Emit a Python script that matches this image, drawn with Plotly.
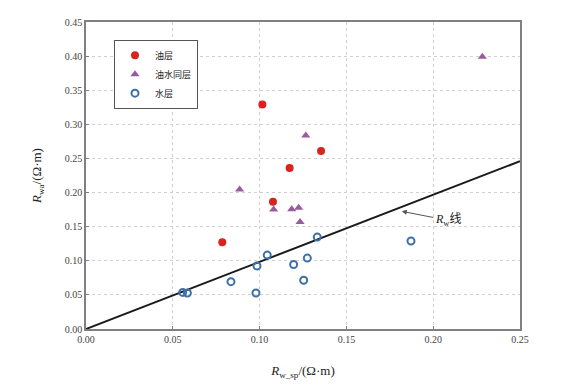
import plotly.graph_objects as go

oil_x = [0.1016, 0.1354, 0.1173, 0.1077, 0.0785]
oil_y = [0.329, 0.261, 0.236, 0.1865, 0.127]

mix_x = [0.1266, 0.0885, 0.1081, 0.1185, 0.1225, 0.1233, 0.2283]
mix_y = [0.2836, 0.2046, 0.175, 0.1754, 0.1778, 0.1567, 0.399]

water_x = [0.0557, 0.0584, 0.0835, 0.0979, 0.0985, 0.1044, 0.1196, 0.1254, 0.1275, 0.1332, 0.1872]
water_y = [0.0536, 0.0528, 0.0694, 0.0528, 0.0924, 0.1083, 0.0945, 0.0714, 0.1039, 0.1347, 0.129]

rw_line_x = [0.0, 0.25]
rw_line_y = [0.0, 0.246]

x_ticks = [0.00, 0.05, 0.10, 0.15, 0.20, 0.25]
y_ticks = [0.00, 0.05, 0.10, 0.15, 0.20, 0.25, 0.30, 0.35, 0.40, 0.45]

series_names = ["油层", "油水同层", "水层"]

fig = go.Figure()
fig.add_trace(go.Scatter(x=rw_line_x, y=rw_line_y, mode="lines",
                         line=dict(color="#1a1a1a", width=2), showlegend=False, hoverinfo="skip"))
fig.add_trace(go.Scatter(x=oil_x, y=oil_y, mode="markers", name=series_names[0],
                         marker=dict(symbol="circle", size=8, color="#d8231f")))
fig.add_trace(go.Scatter(x=mix_x, y=mix_y, mode="markers", name=series_names[1],
                         marker=dict(symbol="triangle-up", size=8, color="#9a5aa0")))
fig.add_trace(go.Scatter(x=water_x, y=water_y, mode="markers", name=series_names[2],
                         marker=dict(symbol="circle-open", size=7, color="#3d70a8",
                                     line=dict(width=2, color="#3d70a8"))))

fig.add_annotation(x=0.1819, y=0.1725, xref="x", yref="y",
                   text="<i>R</i><sub>w</sub>线", showarrow=True,
                   ax=46, ay=9, arrowhead=2, arrowsize=1, arrowwidth=1,
                   arrowcolor="#555555",
                   font=dict(family="Liberation Serif, Noto Sans CJK SC", size=12, color="#222222"))

axis_common = dict(showline=True, linecolor="#808080", linewidth=1.5, mirror=True,
                   showgrid=True, gridcolor="#d0d0d0", griddash="dot", gridwidth=1,
                   ticks="inside", ticklen=3, tickcolor="#808080", zeroline=False,
                   tickfont=dict(family="Liberation Serif", size=10, color="#444444"))

fig.update_xaxes(range=[0, 0.25], tickvals=x_ticks, ticktext=[f"{v:.2f}" for v in x_ticks],
                 title=dict(text="<i>R</i><sub>w_sp</sub>/(Ω·m)", standoff=22,
                            font=dict(family="Liberation Serif", size=13, color="#222222")),
                 **axis_common)
fig.update_yaxes(range=[0, 0.45], tickvals=y_ticks, ticktext=[f"{v:.2f}" for v in y_ticks],
                 title=dict(text="<i>R</i><sub>wa</sub>/(Ω·m)", standoff=20,
                            font=dict(family="Liberation Serif", size=13, color="#222222")),
                 **axis_common)

fig.update_layout(
    width=578, height=388,
    margin=dict(l=78, r=66, t=8, b=67),
    paper_bgcolor="white", plot_bgcolor="white",
    font=dict(family="Liberation Serif, Noto Sans CJK SC"),
    legend=dict(x=0.0645, y=0.9425, xanchor="left", yanchor="top",
                bordercolor="#555555", borderwidth=1, bgcolor="white",
                font=dict(family="Noto Sans CJK SC", size=9, color="#222222"),
                itemwidth=30, tracegroupgap=0),
)

fig.write_html("out.html")
